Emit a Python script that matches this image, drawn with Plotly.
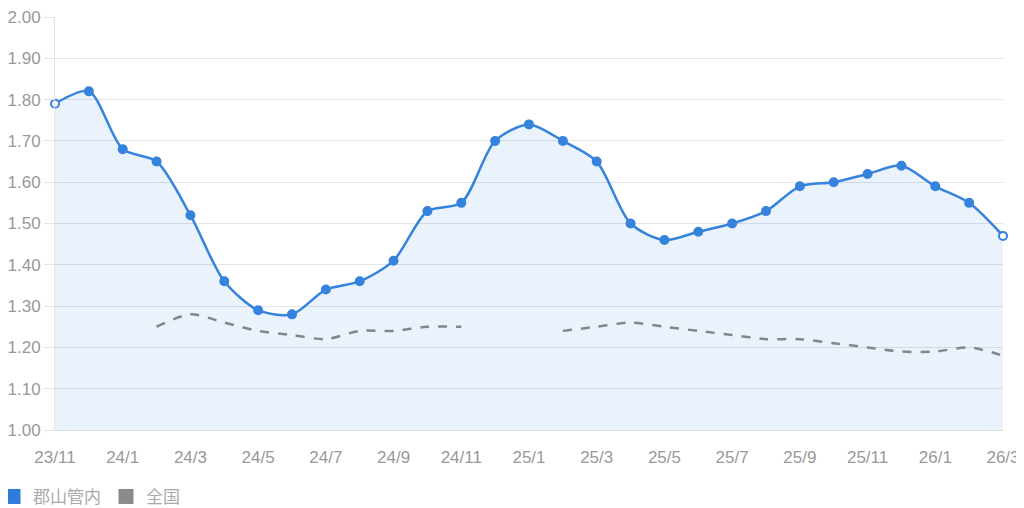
import plotly.graph_objects as go

months = ["23/11", "23/12", "24/1", "24/2", "24/3", "24/4", "24/5", "24/6", "24/7", "24/8",
          "24/9", "24/10", "24/11", "24/12", "25/1", "25/2", "25/3", "25/4", "25/5", "25/6",
          "25/7", "25/8", "25/9", "25/10", "25/11", "25/12", "26/1", "26/2", "26/3"]

koriyama = [1.79, 1.82, 1.68, 1.65, 1.52, 1.36, 1.29, 1.28, 1.34, 1.36,
            1.41, 1.53, 1.55, 1.70, 1.74, 1.70, 1.65, 1.50, 1.46, 1.48,
            1.50, 1.53, 1.59, 1.60, 1.62, 1.64, 1.59, 1.55, 1.47]

zenkoku = [None, None, None, 1.25, 1.28, 1.26, 1.24, 1.23, 1.22, 1.24,
           1.24, 1.25, 1.25, None, None, 1.24, 1.25, 1.26, 1.25, 1.24,
           1.23, 1.22, 1.22, 1.21, 1.20, 1.19, 1.19, 1.20, 1.18]

tick_labels = months[::2]
y_ticks = [1.00, 1.10, 1.20, 1.30, 1.40, 1.50, 1.60, 1.70, 1.80, 1.90, 2.00]

BLUE = "#3583dc"
GRAY = "#8a8a86"
FONT = "Liberation Sans, Noto Sans CJK JP"

# 最初と最後の点は白抜き
pt_fill = [BLUE] * len(months)
pt_fill[0] = "white"
pt_fill[-1] = "white"

fig = go.Figure()

fig.add_trace(go.Scatter(
    x=months, y=zenkoku, mode="lines", showlegend=False,
    line=dict(color=GRAY, width=2.5, dash="dash", shape="spline", smoothing=0.8),
    connectgaps=False, hoverinfo="skip"))

fig.add_trace(go.Scatter(
    x=months, y=koriyama, mode="lines+markers", showlegend=False,
    fill="tozeroy", fillcolor="rgba(53,131,220,0.10)", cliponaxis=False,
    line=dict(color=BLUE, width=2.5, shape="spline", smoothing=0.8),
    marker=dict(size=8, color=pt_fill, line=dict(color=BLUE, width=2))))

# 凡例用
fig.add_trace(go.Scatter(x=[None], y=[None], mode="markers", name="郡山管内",
                         marker=dict(symbol="square", size=15, color="#2f7bd9")))
fig.add_trace(go.Scatter(x=[None], y=[None], mode="markers", name="全国",
                         marker=dict(symbol="square", size=15, color=GRAY)))

# ページ余白(8px)を見込んだ余白
fig.update_layout(
    width=1024, height=508,
    margin=dict(l=47, r=29, t=9, b=86, autoexpand=False),
    plot_bgcolor="white", paper_bgcolor="white",
    font=dict(family=FONT, size=17, color="#999999"),
    legend=dict(orientation="h", x=-62 / 948, xanchor="left", y=-0.162, yanchor="middle",
                font=dict(size=17, color="#aaaaaa"), itemwidth=30, tracegroupgap=0),
    xaxis=dict(type="category", categoryorder="array", categoryarray=months,
               range=[0, len(months) - 1], automargin=False,
               tickmode="array", tickvals=tick_labels, ticktext=tick_labels,
               showgrid=False, showline=True, linecolor="#dddddd", linewidth=1,
               ticks="", ticklabelstandoff=12, ticklabeloverflow="allow",
               tickfont=dict(size=17, color="#999999")),
    yaxis=dict(range=[1.0, 2.0], tickmode="array", tickvals=y_ticks, tickformat=".2f",
               automargin=False, ticklabeloverflow="allow",
               showgrid=True, gridcolor="#e4e4e4", gridwidth=1, zeroline=False,
               showline=True, linecolor="#e4e4e4",
               ticks="outside", ticklen=10, tickcolor="#e4e4e4",
               tickfont=dict(size=17, color="#999999")),
)

fig.write_html("out.html")
